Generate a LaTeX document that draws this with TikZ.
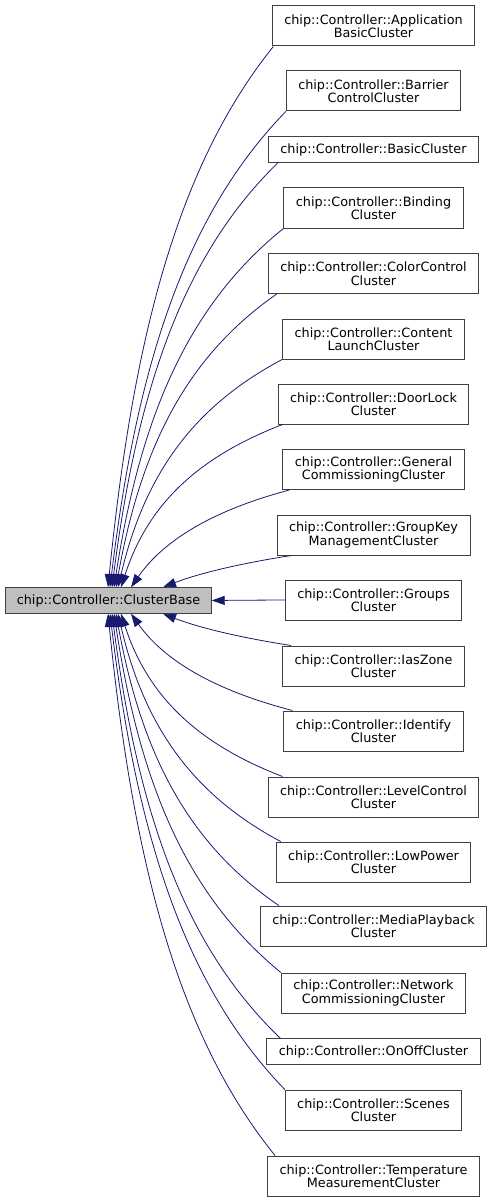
\documentclass[tikz,border=0pt]{standalone}
\usepackage{fontspec}
\setmainfont{DejaVu Sans}
\usetikzlibrary{arrows.meta,calc}
\definecolor{edgeblue}{HTML}{191970}
\definecolor{boxline}{HTML}{404040}
\definecolor{basefill}{HTML}{BFBFBF}

\begin{document}
\begin{tikzpicture}[
    x=1pt, y=-1pt,
    cls/.style={rectangle, draw=boxline, line width=1pt, fill=white, align=center,
        inner xsep=12pt, inner ysep=2pt, minimum height=40pt,
        font=\fontsize{12.8}{13.5}\selectfont},
    single/.style={cls, minimum height=25.5pt},
    inh/.style={edgeblue, line width=0.8pt, -{Triangle[length=13pt,width=9pt]}}
]
    \useasboundingbox (0,0) rectangle (493,1201);

    % base class
    \node[single, fill=basefill, inner xsep=11pt] (base) at (108.5,600.5) {chip::Controller::ClusterBase};

    % derived classes
    \foreach \i/\cy/\sty/\txt in {
        1/26/cls/{chip::Controller::Application\\BasicCluster},
        2/91/cls/{chip::Controller::Barrier\\ControlCluster},
        3/149.5/single/{chip::Controller::BasicCluster},
        4/208/cls/{chip::Controller::Binding\\Cluster},
        5/273.5/cls/{chip::Controller::ColorControl\\Cluster},
        6/339/cls/{chip::Controller::Content\\LaunchCluster},
        7/404/cls/{chip::Controller::DoorLock\\Cluster},
        8/469.5/cls/{chip::Controller::General\\CommissioningCluster},
        9/535/cls/{chip::Controller::GroupKey\\ManagementCluster},
        10/600/cls/{chip::Controller::Groups\\Cluster},
        11/666/cls/{chip::Controller::IasZone\\Cluster},
        12/731/cls/{chip::Controller::Identify\\Cluster},
        13/797/cls/{chip::Controller::LevelControl\\Cluster},
        14/862/cls/{chip::Controller::LowPower\\Cluster},
        15/926/cls/{chip::Controller::MediaPlayback\\Cluster},
        16/993/cls/{chip::Controller::Network\\CommissioningCluster},
        17/1051.5/single/{chip::Controller::OnOffCluster},
        18/1110/cls/{chip::Controller::Scenes\\Cluster},
        19/1176/cls/{chip::Controller::Temperature\\MeasurementCluster}}
        \node[\sty] (C\i) at (373.5,\cy) {\txt};

    % Inheritance edges
    \foreach \i/\sa/\sx/\ea/\ex/\ka/\kb in {
        1/south west/1.5/north/-0.5/0.57/0.154,
        2/south west/0/north/1.5/0.57/0.154,
        3/south west/10/north/3.5/0.57/0.154,
        4/south west/0/north/5.5/0.57/0.154,
        5/south west/9/north/7.5/0.57/0.154,
        6/south west/0/north/9.5/0.57/0.154,
        7/south west/5/north/12.5/0.57/0.154,
        8/south west/7/north/22.5/0.5/0.2,
        9/south west/15/north/54.5/0.35/0.3,
        10/west/0/east/0/0.33/0.33,
        11/north west/9/south/54.5/0.35/0.3,
        12/north west/9/south/22.5/0.5/0.2,
        13/north west/15/south/12.5/0.57/0.154,
        14/north west/5/south/9.5/0.57/0.154,
        15/north west/19/south/7.5/0.57/0.154,
        16/north west/0/south/5.5/0.57/0.154,
        17/north west/14/south/3.5/0.57/0.154,
        18/north west/0/south/1.5/0.57/0.154,
        19/north west/8/south/-0.5/0.57/0.154}
        \draw[inh] let \p1=([xshift=\sx pt]C\i.\sa), \p2=([xshift=\ex pt]base.\ea) in
            (\p1) .. controls +({-\ka*(\x1-\x2)},{-0.217*(\y1-\y2)})
                  and +({\kb*(\x1-\x2)},{0.47*(\y1-\y2)}) .. (\p2);

\end{tikzpicture}
\end{document}
